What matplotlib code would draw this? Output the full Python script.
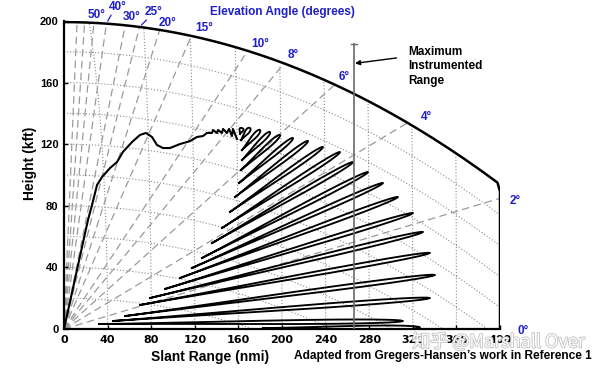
import numpy as np
import matplotlib
matplotlib.use("Agg")
import matplotlib.pyplot as plt
import matplotlib.patheffects as pe

# ---------------- data ----------------
x_ticks = [0, 40, 80, 120, 160, 200, 240, 280, 320, 360, 400]
y_ticks = [0, 40, 80, 120, 160, 200]
elev_angles = [0, 2, 4, 6, 8, 10, 15, 20, 25, 30, 40, 50, 60, 70]
elev_labels = {0: "0°", 2: "2°", 4: "4°", 6: "6°", 8: "8°", 10: "10°", 15: "15°",
               20: "20°", 25: "25°", 30: "30°", 40: "40°", 50: "50°"}
height_levels = [20, 40, 60, 80, 100, 120, 140, 160, 180]
range_levels = [40, 80, 120, 160, 200, 240, 280, 320, 360]
top_altitude = 200
max_range = 400
max_instrumented_range = 266

# high-angle envelope and shallow ripples (slant range nmi, height kft)
env_range = [0, 22.0, 25.7, 30.3, 34.9, 42.2, 48.6, 54.1, 62.4, 69.7, 75.2, 80.7,
             85.3, 90.8, 97.2, 106.4, 115.6, 122.0, 127.5, 131.2, 135.8, 136.7,
             140.4, 141.3, 144.9, 145.9, 149.5, 151.4, 154.1, 155.0, 158.7]
env_height = [0, 70.8, 80.5, 93.5, 98.7, 104.5, 108.4, 115.0, 121.4, 126.0, 127.3,
              124.7, 119.5, 117.5, 117.5, 120.1, 122.0, 124.7, 125.3, 127.3, 127.3,
              129.2, 127.3, 129.2, 127.3, 129.9, 127.3, 129.9, 125.3, 129.9, 123.4]

# lobes (bottom -> top): inner end and tip (slant range nmi, height kft)
lobe_inner_range = [182.6, 32.1, 45.0, 56.0, 69.7, 78.9, 92.7, 106.4, 117.4, 126.6,
                    135.8, 145.0, 152.3, 156.9, 160.6, 162.4, 163.3, 163.3, 162.4, 161.5]
lobe_inner_height = [0.6, 3.2, 5.2, 8.4, 15.6, 20.1, 26.0, 33.1, 39.6, 46.1,
                     55.8, 65.6, 76.0, 85.7, 94.8, 103.2, 109.7, 116.2, 122.7, 126.6]
lobe_tip_range = [326.6, 311.0, 335.8, 340.4, 335.8, 329.4, 320.2, 306.4, 292.7, 278.9,
                  265.1, 253.2, 237.6, 223.9, 210.1, 198.2, 189.0, 179.8, 170.6, 163.3]
lobe_tip_height = [1.0, 5.2, 20.1, 35.1, 49.4, 63.0, 75.3, 85.7, 94.8, 101.9,
                   108.4, 114.9, 118.2, 122.1, 124.0, 126.0, 127.9, 129.2, 130.5, 130.5]

# ---------------- figure ----------------
W, H = 600, 368
fig = plt.figure(figsize=(W / 100, H / 100), dpi=100)
AX_L, AX_B, AX_W, AX_H = 64, 39, 436, 308
ax = fig.add_axes([AX_L / W, AX_B / H, AX_W / W, AX_H / H])
ax.set_xlim(0, max_range)
ax.set_ylim(0, top_altitude)
SX = AX_W / max_range      # px per nmi
SY = AX_H / top_altitude   # px per kft

KFT_PER_NMI = 6.076
KE = 4.0 / 3.0 * 3440.0  # effective earth radius, nmi


def ray_end(theta_deg):
    s = np.sin(np.radians(theta_deg)) * KFT_PER_NMI
    a = KFT_PER_NMI / (2 * KE)
    R = (-s + np.sqrt(s * s + 4 * a * top_altitude)) / (2 * a)
    x = R * np.cos(np.radians(theta_deg))
    if x > max_range:
        R = max_range / np.cos(np.radians(theta_deg))
    return R


def polar_xy(R, theta_deg):
    t = np.radians(theta_deg)
    return R * np.cos(t), R * np.sin(t) * KFT_PER_NMI


grid_col = "#8a8a8a"
dash_col = "#9a9a9a"
dot = (0, (1, 1.8))

# constant altitude curves (dotted)
for h in height_levels:
    xs = np.linspace(0, max_range, 300)
    ys = h - KFT_PER_NMI * xs ** 2 / (2 * KE)
    m = ys >= 0
    ax.plot(xs[m], ys[m], ls=dot, color=grid_col, lw=0.8, zorder=1)

# constant range arcs (dotted)
for r in range_levels:
    th = np.linspace(0, 90, 400)
    x, y = polar_xy(r, th)
    alt = y + KFT_PER_NMI * r ** 2 / (2 * KE)
    m = alt <= top_altitude
    ax.plot(x[m], y[m], ls=dot, color=grid_col, lw=0.8, zorder=1)

# elevation rays (dashed)
for a in elev_angles[1:]:
    R = ray_end(a)
    x, y = polar_xy(np.array([0, R]), a)
    ax.plot(x, y, ls=(0, (6, 3.5)), color=dash_col, lw=0.9, zorder=1)

# outer boundary: top altitude curve + max range edge
th = np.linspace(0, 90, 600)
Rb = np.array([ray_end(t) for t in th])
xb, yb = polar_xy(Rb, th)
ax.plot(xb, yb, color="black", lw=1.8, zorder=3)

# elevation labels
label_off = {0: (23, -2), 2: (15, -3), 4: (19, 6), 6: (9, 8), 8: (9, 8), 10: (12, 7),
             15: (13, 8), 20: (8, 7), 25: (14, 15), 30: (6, 8), 40: (11, 17), 50: (3, 8)}
blue = "#1f1fc8"
for a, txt in elev_labels.items():
    R = ray_end(a)
    x, y = polar_xy(R, a)
    dx, dy = label_off[a]
    ax.annotate(txt, (x, y), xytext=(dx, dy), textcoords="offset pixels",
                ha="center", va="center", color=blue, fontsize=8.5,
                fontweight="bold", family="Liberation Sans", annotation_clip=False)
    if a in (25, 40):
        ax.annotate("", (x, y), xytext=(dx - 5, dy - 6), textcoords="offset pixels",
                    arrowprops=dict(arrowstyle="-", color=blue, lw=0.9),
                    annotation_clip=False)

# coverage pattern: high-angle envelope
ax.plot(env_range, env_height, color="black", lw=1.5, zorder=4, solid_joinstyle="round")


# coverage pattern: thin lobes (closed loops from inner end to tip)
def lobe(x0, y0, x1, y1, half_w):
    X0, Y0, X1, Y1 = x0 * SX, y0 * SY, x1 * SX, y1 * SY
    L = np.hypot(X1 - X0, Y1 - Y0)
    ux, uy = (X1 - X0) / L, (Y1 - Y0) / L
    nx, ny = -uy, ux
    t = np.linspace(0, 1, 120)
    prof = t ** 1.6 * np.sqrt(1 - t)
    prof = half_w * prof / prof.max()
    cx, cy = X0 + ux * L * t, Y0 + uy * L * t
    xs = np.concatenate([cx - nx * prof, (cx + nx * prof)[::-1]])
    ys = np.concatenate([cy - ny * prof, (cy + ny * prof)[::-1]])
    return xs / SX, ys / SY


for x0, y0, x1, y1 in zip(lobe_inner_range, lobe_inner_height,
                          lobe_tip_range, lobe_tip_height):
    lx, ly = lobe(x0, y0, x1, y1, 2.1)
    ax.plot(lx, ly, color="black", lw=1.35, zorder=4, solid_joinstyle="round")

# maximum instrumented range
ax.plot([max_instrumented_range] * 2, [0, 185], color="#6a6a6a", lw=1.2, zorder=5)
ax.plot([max_instrumented_range - 2.5, max_instrumented_range + 2.5], [185, 185],
        color="#6a6a6a", lw=1.0, zorder=5)
ax.annotate("", xy=(max_instrumented_range + 1, 172.5), xytext=(305, 176),
            arrowprops=dict(arrowstyle="-|>", color="black", lw=1.0,
                            mutation_scale=7, shrinkA=0, shrinkB=0))
ax.text(316, 170.5, "Maximum\nInstrumented\nRange", ha="left", va="center",
        fontsize=8.5, fontweight="bold", family="Liberation Sans", linespacing=1.25)

# axes styling
for s in ("top", "right"):
    ax.spines[s].set_visible(False)
for s in ("left", "bottom"):
    ax.spines[s].set_linewidth(1.6)
ax.set_xticks(x_ticks)
ax.set_yticks(y_ticks)
ax.tick_params(direction="in", length=3, width=1)
ax.set_xticklabels([str(v) for v in x_ticks], fontsize=8, fontweight="bold",
                   family="DejaVu Sans")
ax.set_yticklabels([str(v) for v in y_ticks], fontsize=8, fontweight="bold",
                   family="Liberation Sans")
ax.tick_params(axis="x", pad=4)
ax.tick_params(axis="y", pad=4)

fig.text(210 / W, 1 - 357 / H, "Slant Range (nmi)", ha="center", va="center",
         fontsize=10, fontweight="bold", family="Liberation Sans")
fig.text(30 / W, 1 - 163 / H, "Height (kft)", ha="center", va="center", rotation=90,
         fontsize=10, fontweight="bold", family="Liberation Sans")
fig.text(282 / W, 1 - 12 / H, "Elevation Angle (degrees)", ha="center", va="center",
         fontsize=8.5, fontweight="bold", family="Liberation Sans", color=blue)
fig.text(592 / W, 1 - 356 / H, "Adapted from Gregers-Hansen’s work in Reference 1",
         ha="right", va="center", fontsize=8.6, fontweight="bold",
         family="Liberation Sans")

# watermark
fig.text(585 / W, 1 - 342 / H, "知乎 @Marshall Over", ha="right", va="center",
         fontsize=13, color="white", family=["Noto Sans CJK SC", "DejaVu Sans"],
         path_effects=[pe.withStroke(linewidth=1.2, foreground="#c0c0c0")], zorder=10)

fig.savefig("out.png", dpi=100)
